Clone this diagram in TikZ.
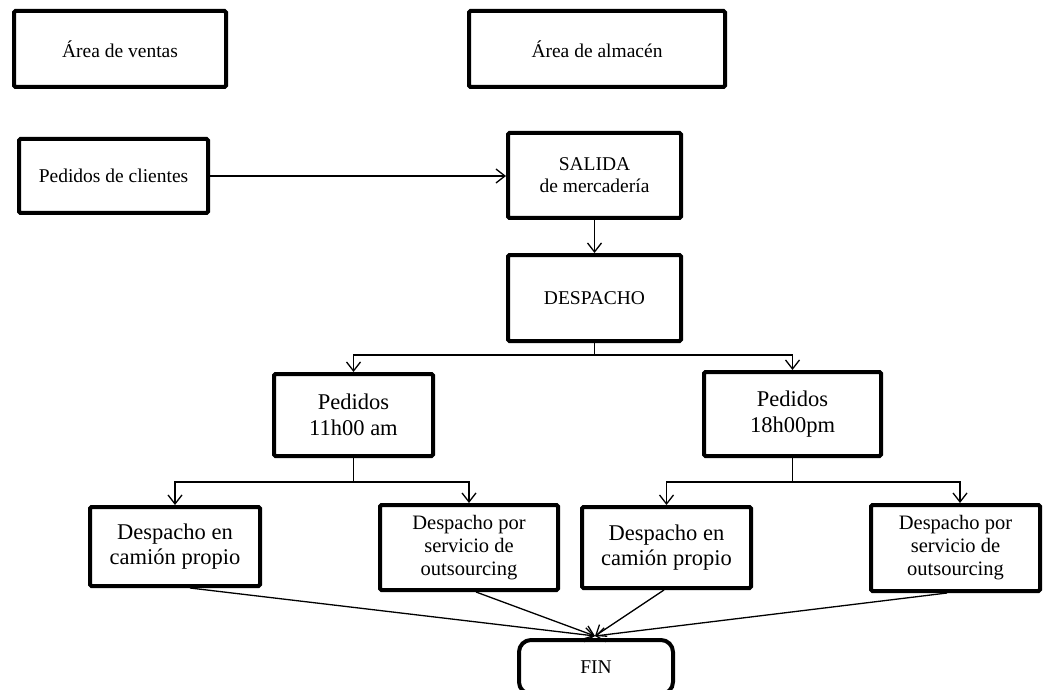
\documentclass[tikz,border=0pt]{standalone}
\usepackage{fontspec}
\setmainfont{Liberation Serif}
\usetikzlibrary{arrows.meta}
\begin{document}
\begin{tikzpicture}[x=1pt,y=-1pt,
  box/.style={draw, line width=4pt, rounded corners=1.5pt, align=center, inner sep=0pt},
  txts/.style={font=\fontsize{19.5}{22}\selectfont},
  txtm/.style={font=\fontsize{20.5}{23}\selectfont},
  txtl/.style={font=\fontsize{22.5}{25.5}\selectfont},
  wire/.style={line width=1.3pt},
  link/.style={wire, -{Straight Barb[length=9pt,width=14pt,line width=1.3pt]}}]
\clip (0,0) rectangle (1053,690);

% headers
\node[box,txts,minimum width=212pt,minimum height=76pt] (ventas) at (120,49) {Área de ventas};
\node[box,txts,minimum width=256pt,minimum height=76pt] (almacen) at (597,49) {Área de almacén};

% main flow
\node[box,txts,minimum width=189pt,minimum height=74pt] (clientes) at (113.5,176) {Pedidos de clientes};
\node[box,txts,minimum width=173pt,minimum height=85pt] (salida) at (594.5,175.5) {SALIDA\\de mercadería};
\node[box,txts,minimum width=173pt,minimum height=86pt] (despacho) at (594.5,298) {DESPACHO};

% order batches
\node[box,txtl,minimum width=159pt,minimum height=82pt] (p11) at (353.5,415) {Pedidos\\11h00 am};
\node[box,txtl,minimum width=177pt,minimum height=84pt] (p18) at (792.5,414) {Pedidos\\18h00pm};

% dispatch options
\node[box,txtl,minimum width=170pt,minimum height=79pt] (d1) at (175,546.5) {Despacho en\\camión propio};
\node[box,txtm,minimum width=178pt,minimum height=85pt] (d2) at (469,547.5) {Despacho por\\servicio de\\outsourcing};
\node[box,txtl,minimum width=169pt,minimum height=81pt] (d3) at (666.5,547.5) {Despacho en\\camión propio};
\node[box,txtm,minimum width=169pt,minimum height=86pt] (d4) at (955.5,548) {Despacho por\\servicio de\\outsourcing};

% end
\node[box,txts,rounded corners=12pt,minimum width=154pt,minimum height=54pt] (fin) at (596,667) {FIN};

% connectors
\draw[link] (clientes.east) -- (clientes.east -| salida.west);
\draw[link] (salida) -- (despacho);

\draw[wire] (despacho.south) -- ++(0,12) coordinate (j1);
\draw[link] (j1) -| (p11.north);
\draw[link] (j1) -| (p18.north);

\draw[wire] (p11.south) -- ++(0,24) coordinate (j2);
\draw[link] (j2) -| (d1.north);
\draw[link] (j2) -| (d2.north);

\draw[wire] (p18.south) -- ++(0,24) coordinate (j3);
\draw[link] (j3) -| (d3.north);
\draw[link] (j3) -| ([xshift=4.5pt]d4.north);

\coordinate (finin) at ([xshift=-1pt,yshift=2pt]fin.north);
\draw[link] ([xshift=15pt]d1.south) -- (finin);
\draw[link] ([xshift=7pt]d2.south) -- (finin);
\draw[link] ([xshift=-2.5pt]d3.south) -- (finin);
\draw[link] ([xshift=-8.5pt]d4.south) -- (finin);
\end{tikzpicture}
\end{document}
